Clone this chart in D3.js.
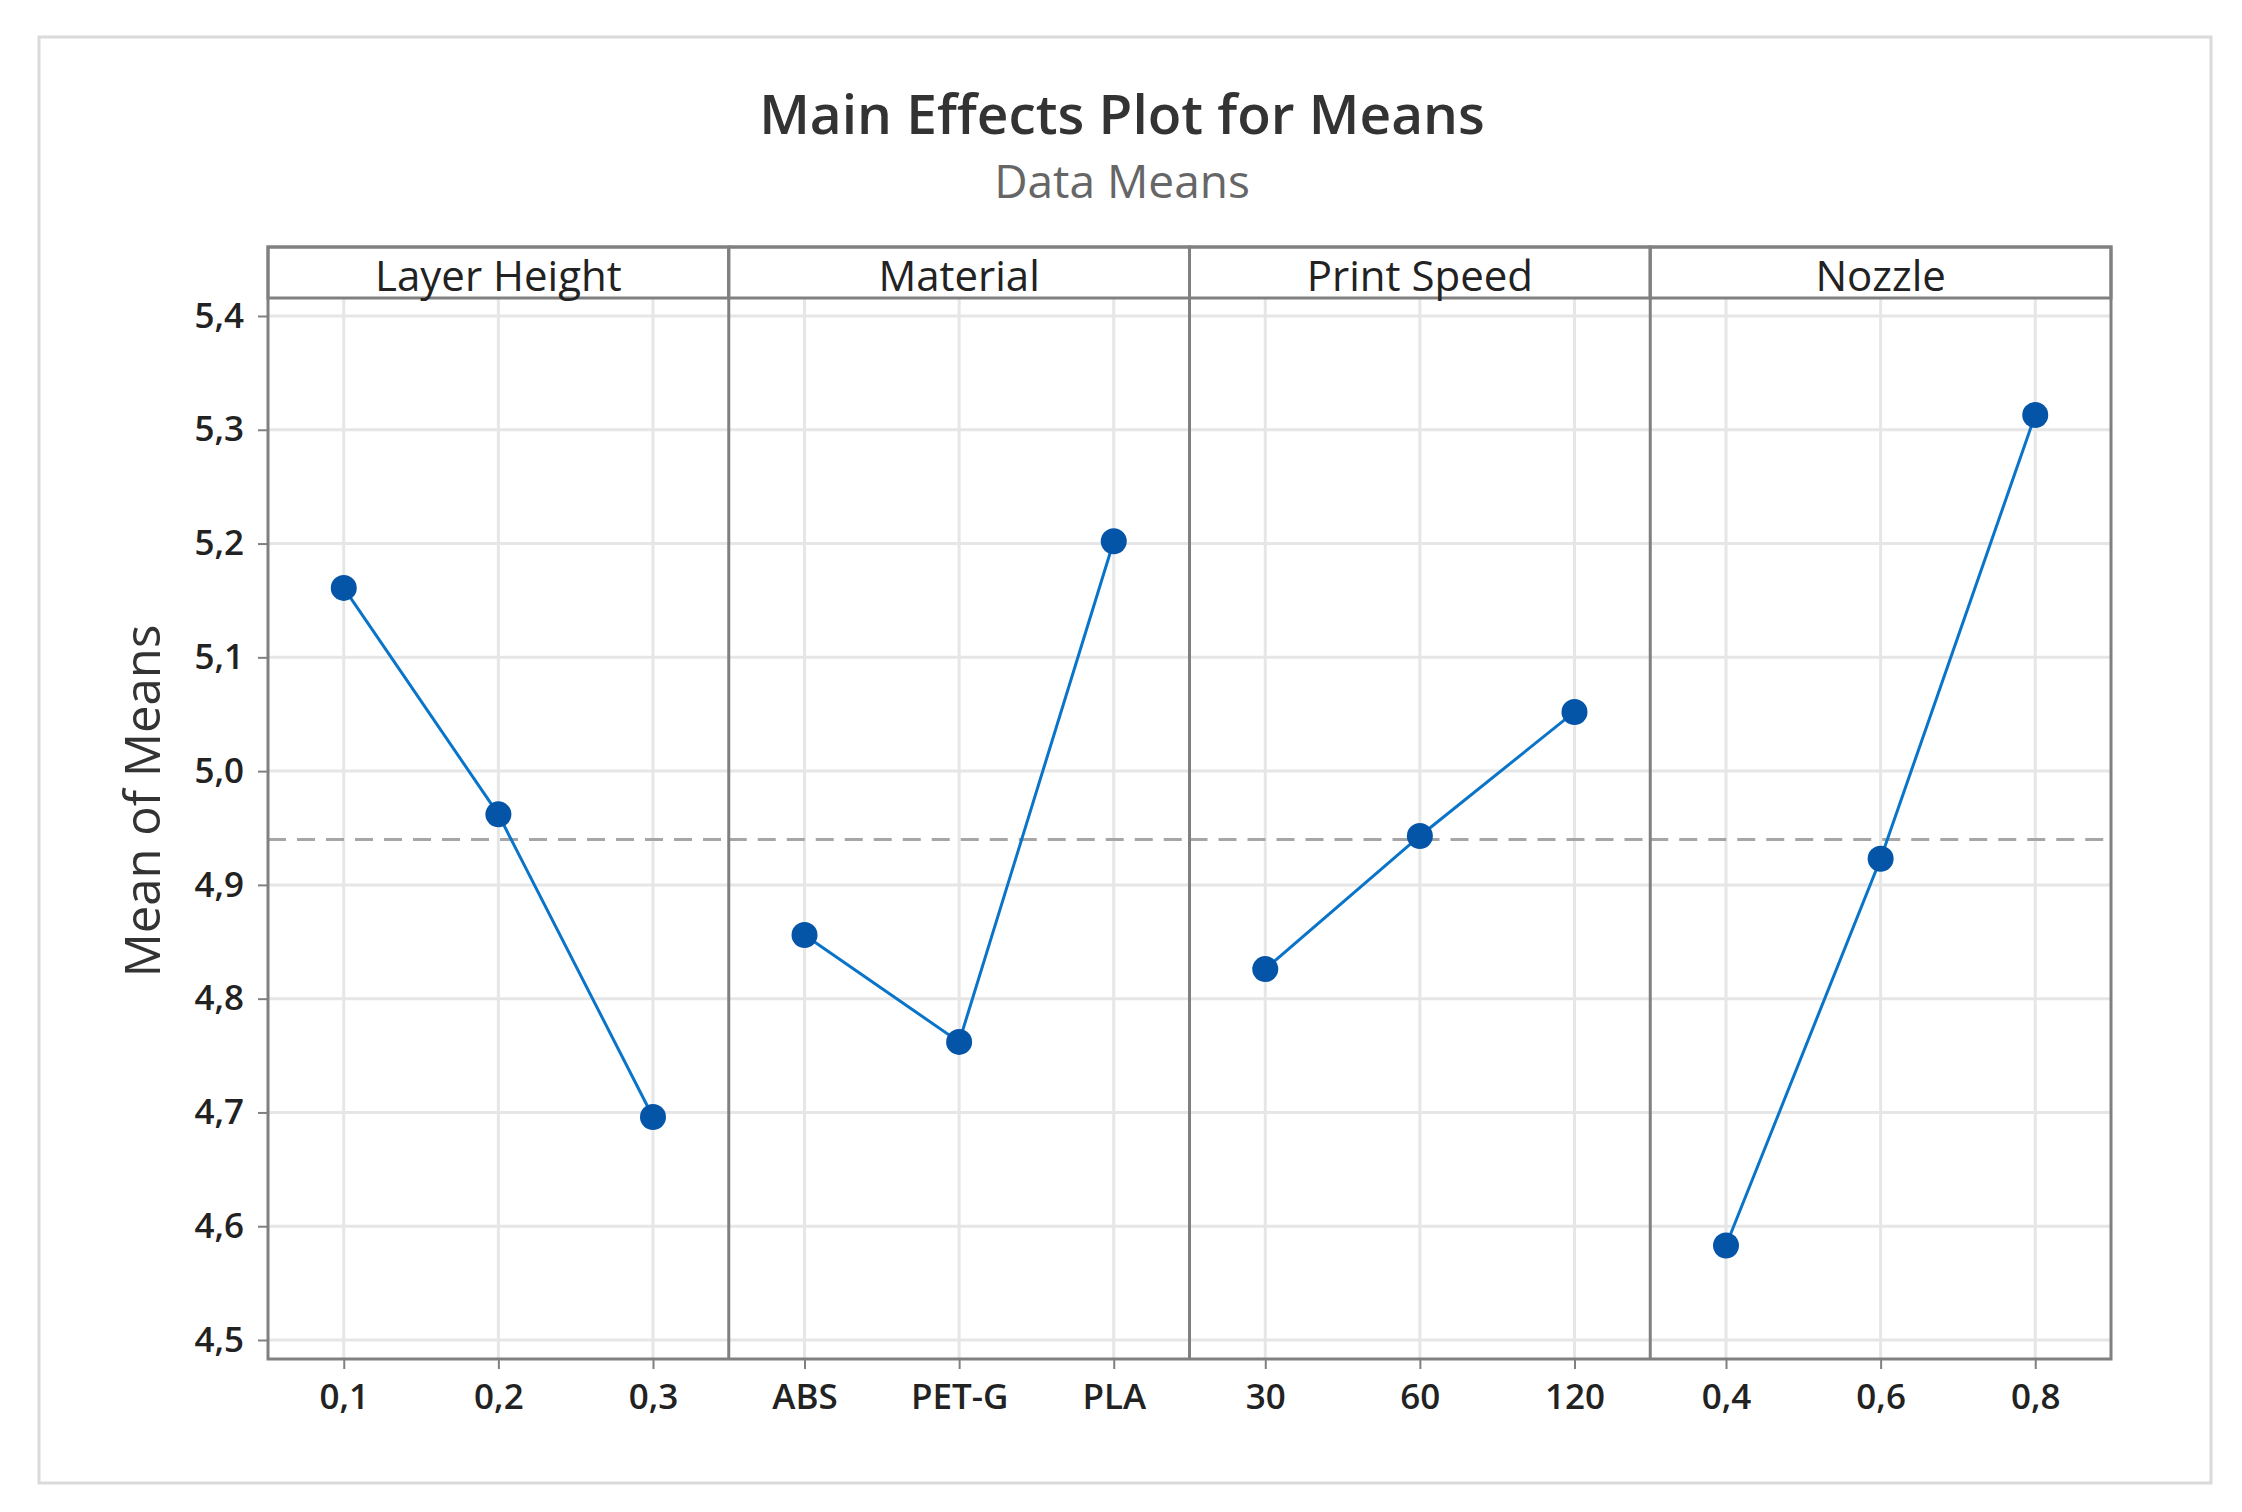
<!DOCTYPE html>
<html>
<head>
<meta charset="utf-8">
<script src="https://cdn.jsdelivr.net/npm/d3@7"></script>
<style>
  html, body { margin: 0; padding: 0; background: #ffffff; }
  svg { display: block; }
  text { font-family: "Open Sans", "Noto Sans", sans-serif; }
</style>
</head>
<body>
<svg id="chart" width="2242" height="1512"></svg>
<script>
// ---- data ----
const titleText = "Main Effects Plot for Means";
const subtitleText = "Data Means";
const yAxisTitle = "Mean of Means";
const factors = ["Layer Height", "Material", "Print Speed", "Nozzle"];
const layerHeightLevels = ["0,1", "0,2", "0,3"];
const layerHeightMeans = [5.161, 4.962, 4.696];
const materialLevels = ["ABS", "PET-G", "PLA"];
const materialMeans = [4.856, 4.762, 5.202];
const printSpeedLevels = ["30", "60", "120"];
const printSpeedMeans = [4.826, 4.943, 5.052];
const nozzleLevels = ["0,4", "0,6", "0,8"];
const nozzleMeans = [4.583, 4.923, 5.313];
const overallMean = 4.940;
const yTicks = [4.5, 4.6, 4.7, 4.8, 4.9, 5.0, 5.1, 5.2, 5.3, 5.4];
const yTickLabels = ["4,5", "4,6", "4,7", "4,8", "4,9", "5,0", "5,1", "5,2", "5,3", "5,4"];

const levelsByFactor = [layerHeightLevels, materialLevels, printSpeedLevels, nozzleLevels];
const meansByFactor = [layerHeightMeans, materialMeans, printSpeedMeans, nozzleMeans];

// ---- layout ----
const svg = d3.select("#chart");
const frameL = 268, frameR = 2111, stripTop = 247, plotTop = 298, plotBottom = 1359;
const panelW = (frameR - frameL) / factors.length;

const frameColor = "#808080";
const gridColor = "#e6e6e6";
const lineColor = "#0a74c9";
const markerColor = "#0455a8";

// outer border
svg.append("rect").attr("x", 39).attr("y", 37).attr("width", 2172).attr("height", 1446)
  .attr("fill", "#fff").attr("stroke", "#dadada").attr("stroke-width", 3);

// titles
svg.append("text").attr("x", 1122).attr("y", 134).attr("text-anchor", "middle")
  .attr("font-size", 55).attr("font-weight", 600).attr("fill", "#333").text(titleText);
svg.append("text").attr("x", 1122).attr("y", 198).attr("text-anchor", "middle")
  .attr("font-size", 46).attr("fill", "#666").text(subtitleText);

// y scale
const y = d3.scaleLinear().domain([4.5, 5.4]).range([1340, 316]);

// horizontal gridlines
svg.append("g").selectAll("line").data(yTicks).join("line")
  .attr("x1", frameL).attr("x2", frameR)
  .attr("y1", d => y(d)).attr("y2", d => y(d))
  .attr("stroke", gridColor).attr("stroke-width", 3);

// y axis ticks + labels
const yAxis = d3.axisLeft(y).tickValues(yTicks)
  .tickFormat((d, i) => yTickLabels[i]).tickSizeInner(10).tickSizeOuter(0).tickPadding(14);
const gy = svg.append("g").attr("transform", `translate(${frameL},0)`).call(yAxis);
gy.select(".domain").remove();
gy.selectAll(".tick line").attr("stroke", frameColor).attr("stroke-width", 2);
gy.selectAll(".tick text").attr("font-size", 35).attr("font-weight", 600).attr("fill", "#222")
  .attr("font-family", "'Open Sans', sans-serif");

// y axis title
svg.append("text").attr("transform", "translate(160,801) rotate(-90)")
  .attr("text-anchor", "middle").attr("font-size", 49).attr("fill", "#333").text(yAxisTitle);

// panels
factors.forEach((f, i) => {
  const x0 = frameL + i * panelW;
  const levels = levelsByFactor[i];
  const means = meansByFactor[i];
  const x = d3.scalePoint().domain(levels).range([x0, x0 + panelW]).padding(0.49);
  const g = svg.append("g");

  // vertical gridlines
  g.selectAll("line.vg").data(levels).join("line").attr("class", "vg")
    .attr("x1", d => x(d)).attr("x2", d => x(d))
    .attr("y1", plotTop).attr("y2", plotBottom)
    .attr("stroke", gridColor).attr("stroke-width", 3);

  // reference mean line
  g.append("line").attr("x1", x0).attr("x2", x0 + panelW)
    .attr("y1", y(overallMean)).attr("y2", y(overallMean))
    .attr("stroke", "#a6a6a6").attr("stroke-width", 3).attr("stroke-dasharray", "18,11");

  // x axis
  const xAxis = d3.axisBottom(x).tickSizeInner(10).tickSizeOuter(0).tickPadding(15);
  const gx = g.append("g").attr("transform", `translate(0,${plotBottom})`).call(xAxis);
  gx.select(".domain").remove();
  gx.selectAll(".tick line").attr("stroke", frameColor).attr("stroke-width", 2);
  gx.selectAll(".tick text").attr("font-size", 35).attr("font-weight", 600).attr("fill", "#222")
    .attr("font-family", "'Open Sans', sans-serif");

  // effect line
  const pts = levels.map((l, k) => ({ l, v: means[k] }));
  g.append("path").datum(pts)
    .attr("d", d3.line().x(d => x(d.l)).y(d => y(d.v)))
    .attr("fill", "none").attr("stroke", lineColor).attr("stroke-width", 3);
  g.selectAll("circle").data(pts).join("circle")
    .attr("cx", d => x(d.l)).attr("cy", d => y(d.v)).attr("r", 13)
    .attr("fill", markerColor);

  // strip
  g.append("rect").attr("x", x0).attr("y", stripTop).attr("width", panelW).attr("height", plotTop - stripTop)
    .attr("fill", "#fff").attr("stroke", frameColor).attr("stroke-width", 3);
  g.append("text").attr("x", x0 + panelW / 2).attr("y", 291).attr("text-anchor", "middle")
    .attr("font-size", 42).attr("fill", "#222").text(f);
});

// frame and panel dividers
svg.append("rect").attr("x", frameL).attr("y", stripTop).attr("width", frameR - frameL)
  .attr("height", plotBottom - stripTop).attr("fill", "none")
  .attr("stroke", frameColor).attr("stroke-width", 3);
svg.append("g").selectAll("line").data(d3.range(1, factors.length)).join("line")
  .attr("x1", d => frameL + d * panelW).attr("x2", d => frameL + d * panelW)
  .attr("y1", stripTop).attr("y2", plotBottom)
  .attr("stroke", frameColor).attr("stroke-width", 3);
</script>
</body>
</html>
